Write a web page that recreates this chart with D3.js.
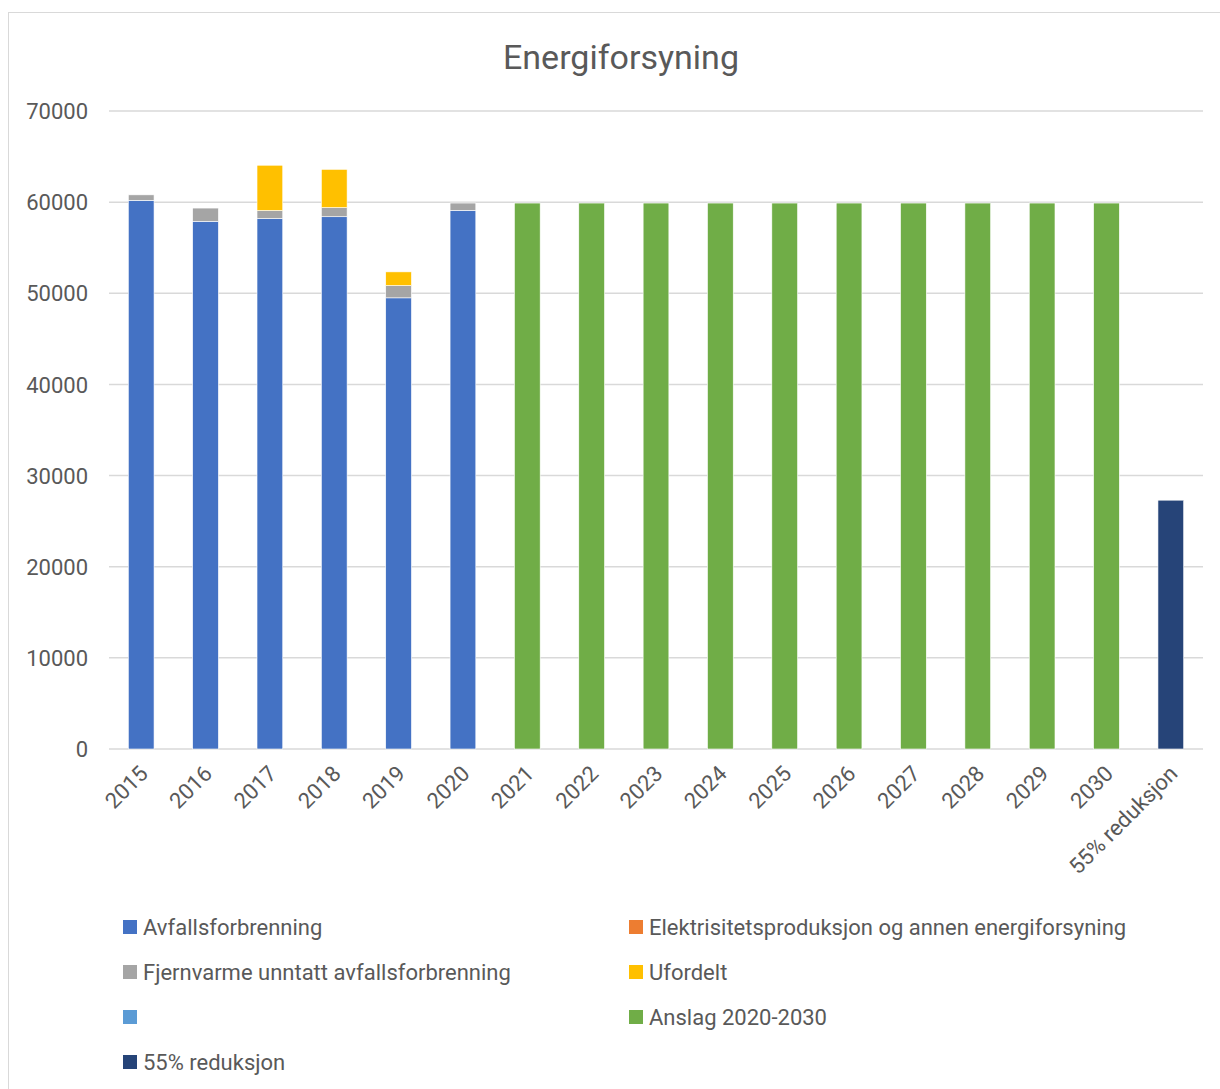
<!DOCTYPE html>
<html>
  <head>
    <title>Energiforsyning</title>
    <script src="https://d3js.org/d3.v7.min.js"></script>
    <style>
      body { margin: 0; background: #fff; }
      text { font-family: Roboto, sans-serif; fill: #595959; }
      .title { font-size: 34px; }
      .axis text { font-size: 22px; }
      .legend text { font-size: 22px; }
    </style>
  </head>
  <body>
    <svg width="1220" height="1089"></svg>
    <script>
      const categories = ["2015", "2016", "2017", "2018", "2019", "2020", "2021", "2022", "2023",
        "2024", "2025", "2026", "2027", "2028", "2029", "2030", "55% reduksjon"];
      const avfallsforbrenning = [60200, 57900, 58200, 58400, 49500, 59100, 0, 0, 0, 0, 0, 0, 0, 0, 0, 0, 0];
      const elektrisitet = [0, 0, 0, 0, 0, 0, 0, 0, 0, 0, 0, 0, 0, 0, 0, 0, 0];
      const fjernvarme = [600, 1450, 880, 1000, 1350, 800, 0, 0, 0, 0, 0, 0, 0, 0, 0, 0, 0];
      const ufordelt = [0, 0, 4970, 4200, 1500, 0, 0, 0, 0, 0, 0, 0, 0, 0, 0, 0, 0];
      const blank = [0, 0, 0, 0, 0, 0, 0, 0, 0, 0, 0, 0, 0, 0, 0, 0, 0];
      const anslag = [0, 0, 0, 0, 0, 0, 59900, 59900, 59900, 59900, 59900, 59900, 59900, 59900, 59900, 59900, 0];
      const reduksjon = [0, 0, 0, 0, 0, 0, 0, 0, 0, 0, 0, 0, 0, 0, 0, 0, 27300];
      const yTicks = [0, 10000, 20000, 30000, 40000, 50000, 60000, 70000];

      const series = [
        { key: "Avfallsforbrenning", values: avfallsforbrenning, color: "#4472c4" },
        { key: "Elektrisitetsproduksjon og annen energiforsyning", values: elektrisitet, color: "#ed7d31" },
        { key: "Fjernvarme unntatt avfallsforbrenning", values: fjernvarme, color: "#a5a5a5" },
        { key: "Ufordelt", values: ufordelt, color: "#ffc000" },
        { key: "", values: blank, color: "#5b9bd5" },
        { key: "Anslag 2020-2030", values: anslag, color: "#70ad47" },
        { key: "55% reduksjon", values: reduksjon, color: "#264478" }
      ];

      const svg = d3.select("svg");
      svg.append("rect")
        .attr("x", 8.5).attr("y", 12.5)
        .attr("width", 1220).attr("height", 1089)
        .attr("fill", "none").attr("stroke", "#d9d9d9");

      svg.append("text")
        .attr("class", "title")
        .attr("x", 621).attr("y", 69)
        .attr("text-anchor", "middle")
        .text("Energiforsyning");

      const x = d3.scaleBand().domain(categories).range([109, 1203]).paddingInner(0.6).paddingOuter(0.3);
      const y = d3.scaleLinear().domain([0, 70000]).range([749, 111]);

      // grid
      svg.append("g")
        .selectAll("line")
        .data(yTicks)
        .join("line")
          .attr("x1", 109).attr("x2", 1203)
          .attr("y1", d => y(d)).attr("y2", d => y(d))
          .attr("stroke", "#d9d9d9").attr("stroke-width", 1.5);

      const yAxis = svg.append("g")
        .attr("class", "axis")
        .attr("transform", "translate(109,0)")
        .call(d3.axisLeft(y).tickValues(yTicks).tickFormat(d3.format("d")).tickSize(0).tickPadding(21));
      yAxis.select(".domain").remove();
      yAxis.selectAll("text").attr("dy", "0.35em");

      const rows = categories.map((c, i) => {
        const row = { cat: c };
        series.forEach((s, j) => row["s" + j] = s.values[i]);
        return row;
      });
      const stacked = d3.stack().keys(series.map((s, j) => "s" + j))(rows);

      svg.append("g")
        .selectAll("g")
        .data(stacked)
        .join("g")
          .attr("fill", (d, i) => series[i].color)
        .selectAll("rect")
        .data(d => d.filter(p => p[1] > p[0]))
        .join("rect")
          .attr("x", d => x(d.data.cat))
          .attr("width", x.bandwidth())
          .attr("y", d => y(d[1]))
          .attr("height", d => y(d[0]) - y(d[1]))
          .attr("stroke", "#fff").attr("stroke-width", 0.6);

      const xAxis = svg.append("g")
        .attr("class", "axis")
        .attr("transform", "translate(0,749)")
        .call(d3.axisBottom(x).tickSize(0).tickPadding(0));
      xAxis.select(".domain").remove();
      xAxis.selectAll("text")
        .attr("text-anchor", "end")
        .attr("dy", null)
        .attr("transform", "translate(8,26) rotate(-45)");

      const legendItems = series.map((s, i) => ({
        s, col: i % 2, row: Math.floor(i / 2)
      }));
      const legend = svg.append("g").attr("class", "legend")
        .selectAll("g")
        .data(legendItems)
        .join("g")
          .attr("transform", d => `translate(${d.col ? 629 : 123}, ${927 + d.row * 45})`);
      legend.append("rect")
        .attr("x", 0).attr("y", -7)
        .attr("width", 14).attr("height", 14)
        .attr("fill", d => d.s.color);
      legend.append("text")
        .attr("x", 20).attr("dy", "0.35em")
        .text(d => d.s.key);
    </script>
  </body>
</html>
